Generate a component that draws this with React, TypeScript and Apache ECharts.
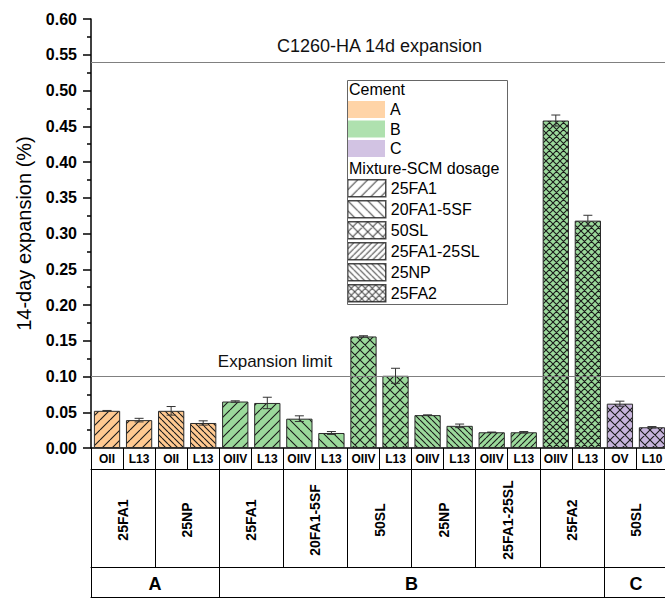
import React, { useEffect, useRef } from 'react';
import * as echarts from 'echarts';

// ---------- data ----------
const subLabels = ['OII', 'L13', 'OII', 'L13', 'OIIV', 'L13', 'OIIV', 'L13', 'OIIV', 'L13', 'OIIV', 'L13', 'OIIV', 'L13', 'OIIV', 'L13', 'OV', 'L10'];
const mixtures = ['25FA1', '25NP', '25FA1', '20FA1-5SF', '50SL', '25NP', '25FA1-25SL', '25FA2', '50SL'];
const mixtureCement = ['A', 'A', 'B', 'B', 'B', 'B', 'B', 'B', 'C'];
const cementNames = ['A', 'B', 'C'];
const cementBarCounts = [4, 12, 2];
const expansion = [0.052, 0.039, 0.052, 0.035, 0.065, 0.063, 0.041, 0.021, 0.156, 0.101, 0.046, 0.031, 0.022, 0.022, 0.458, 0.318, 0.062, 0.029];
const expansionError = [0.0005, 0.0025, 0.006, 0.003, 0.001, 0.008, 0.004, 0.002, 0.001, 0.0105, 0.0003, 0.0025, 0.0003, 0.001, 0.0077, 0.0075, 0.0035, 0.001];
const referenceValues = [0.54, 0.1];
const referenceLabels = ['C1260-HA 14d expansion', 'Expansion limit'];
const legendMixtures = ['25FA1', '20FA1-5SF', '50SL', '25FA1-25SL', '25NP', '25FA2'];
const legendTitles = ['Cement', 'Mixture-SCM dosage'];
const yMin = 0;
const yMax = 0.6;
const yInterval = 0.05;

// ---------- styles ----------
const FONT = 'Liberation Sans, Arial, Helvetica, sans-serif';
const cementColors: Record<string, string> = { A: '#FFC991', B: '#9BD99B', C: '#C7B4DC' };
const hatchStyles: Record<string, [string, number]> = {
  '25FA1': ['/', 10],
  '20FA1-5SF': ['\\', 10],
  '50SL': ['x', 10],
  '25FA1-25SL': ['/', 6],
  '25NP': ['\\', 6],
  '25FA2': ['x', 7],
};

function makeHatch(bg: string, kind: string, s: number) {
  const c = document.createElement('canvas');
  c.width = s;
  c.height = s;
  const ctx = c.getContext('2d')!;
  ctx.fillStyle = bg;
  ctx.fillRect(0, 0, s, s);
  ctx.strokeStyle = '#1a1a1a';
  ctx.lineWidth = 1.1;
  ctx.beginPath();
  for (let k = -1; k <= 1; k++) {
    if (kind === '/' || kind === 'x') {
      ctx.moveTo(k * s, s);
      ctx.lineTo(k * s + s, 0);
    }
    if (kind === '\\' || kind === 'x') {
      ctx.moveTo(k * s, 0);
      ctx.lineTo(k * s + s, s);
    }
  }
  ctx.stroke();
  return { image: c.toDataURL(), repeat: 'repeat', imageWidth: s, imageHeight: s };
}

export default function App() {
  const ref = useRef<HTMLDivElement>(null);

  useEffect(() => {
    if (!ref.current) return;
    const chart = echarts.init(ref.current, undefined, { renderer: 'svg' });

    const barData = expansion.map((v, i) => {
      const g = Math.floor(i / 2);
      const mix = mixtures[g];
      const cem = mixtureCement[g];
      const [kind, s] = hatchStyles[mix];
      return {
        value: v,
        itemStyle: { color: makeHatch(cementColors[cem], kind, s) as any, borderColor: '#2a2a2a', borderWidth: 1 },
      };
    });

    // cement group boundaries and label positions
    const bounds: number[] = [0];
    cementBarCounts.forEach((n) => bounds.push(bounds[bounds.length - 1] + n));
    const total = bounds[bounds.length - 1];
    const boundaryData: string[] = [];
    const boundaryText: Record<number, string> = {};
    cementNames.forEach((name, i) => {
      boundaryText[bounds[i] + cementBarCounts[i] / 2] = name;
    });
    for (let i = 0; i <= total; i++) boundaryData.push('b' + i);

    const legendSeries = [...cementNames, ...legendMixtures].map((n) => ({
      type: 'scatter',
      name: n,
      data: [],
    }));

    const option: any = {
      animation: false,
      textStyle: { fontFamily: FONT },
      grid: { left: 91, right: -3, top: 19, bottom: 150, containLabel: false, outerBoundsMode: 'none' },
      legend: [
        {
          orient: 'vertical',
          left: 347,
          top: 101,
          padding: 0,
          itemWidth: 38,
          itemHeight: 17,
          itemGap: 2.5,
          icon: 'rect',
          selectedMode: false,
          textStyle: { fontSize: 16, color: '#000', fontFamily: FONT, lineHeight: 17 },
          data: cementNames.map((n) => ({ name: n, itemStyle: { color: cementColors[n], borderWidth: 0 } })),
        },
        {
          orient: 'vertical',
          left: 347,
          top: 179,
          padding: 0,
          itemWidth: 38,
          itemHeight: 17,
          itemGap: 2.5,
          icon: 'rect',
          selectedMode: false,
          textStyle: { fontSize: 16, color: '#000', fontFamily: FONT, lineHeight: 17 },
          data: legendMixtures.map((m) => ({
            name: m,
            itemStyle: {
              color: makeHatch('#ffffff', hatchStyles[m][0], hatchStyles[m][1]),
              borderColor: '#1a1a1a',
              borderWidth: 1.5,
            },
          })),
        },
      ],
      graphic: [
        {
          type: 'rect',
          left: 345,
          top: 78,
          shape: { width: 160, height: 224 },
          style: { fill: 'none', stroke: '#666', lineWidth: 1 },
          z: 100,
        },
        {
          type: 'text',
          x: 349,
          y: 89,
          style: { text: legendTitles[0], fontSize: 16, fontFamily: FONT, fill: '#000', verticalAlign: 'middle' },
          z: 100,
        },
        {
          type: 'text',
          x: 349,
          y: 168,
          style: { text: legendTitles[1], fontSize: 16, fontFamily: FONT, fill: '#000', verticalAlign: 'middle' },
          z: 100,
        },
      ],
      xAxis: [
        {
          type: 'category',
          data: subLabels,
          position: 'bottom',
          boundaryGap: true,
          axisLine: { show: true, onZero: false, lineStyle: { color: '#000', width: 1.5 } },
          axisTick: { show: true, inside: false, length: 21, interval: 0, lineStyle: { color: '#000', width: 1 } },
          axisLabel: { interval: 0, margin: 0, lineHeight: 21, fontSize: 12, fontWeight: 'bold', color: '#000', fontFamily: FONT },
          splitLine: { show: false },
        },
        {
          type: 'category',
          data: mixtures,
          position: 'bottom',
          offset: 21,
          boundaryGap: true,
          axisLine: { show: true, onZero: false, lineStyle: { color: '#000', width: 1 } },
          axisTick: { show: true, length: 98, interval: 0, lineStyle: { color: '#000', width: 1 } },
          axisLabel: {
            interval: 0,
            rotate: 90,
            align: 'center',
            verticalAlign: 'middle',
            margin: 51,
            fontSize: 14,
            fontWeight: 'bold',
            color: '#000',
            fontFamily: FONT,
          },
        },
        {
          type: 'category',
          data: boundaryData,
          position: 'bottom',
          offset: 119,
          boundaryGap: false,
          axisLine: { show: true, onZero: false, lineStyle: { color: '#000', width: 1 } },
          axisTick: {
            show: true,
            length: 30,
            interval: (idx: number) => bounds.indexOf(idx) >= 0,
            lineStyle: { color: '#000', width: 1 },
          },
          axisLabel: {
            interval: (idx: number) => boundaryText[idx] !== undefined,
            formatter: (_v: string, idx: number) => boundaryText[idx] || '',
            margin: 2,
            lineHeight: 30,
            fontSize: 18,
            fontWeight: 'bold',
            color: '#000',
            fontFamily: FONT,
          },
        },
        {
          type: 'category',
          data: subLabels,
          position: 'bottom',
          offset: 149,
          axisLine: { show: true, onZero: false, lineStyle: { color: '#000', width: 1 } },
          axisTick: { show: false },
          axisLabel: { show: false },
        },
      ],
      yAxis: {
        type: 'value',
        min: yMin,
        max: yMax,
        interval: yInterval,
        name: '14-day expansion (%)',
        nameLocation: 'middle',
        nameGap: 57,
        nameTextStyle: { fontSize: 20, color: '#000', fontFamily: FONT },
        axisLine: { show: true, lineStyle: { color: '#000', width: 1.5 } },
        axisTick: { show: true, inside: false, length: 8, lineStyle: { color: '#000', width: 1.5 } },
        minorTick: { show: true, splitNumber: 2, length: 4, lineStyle: { color: '#000', width: 1.5 } },
        splitLine: { show: false },
        axisLabel: {
          margin: 14,
          fontSize: 16,
          fontWeight: 'bold',
          color: '#000',
          fontFamily: FONT,
          formatter: (v: number) => v.toFixed(2),
        },
      },
      series: [
        {
          type: 'bar',
          xAxisIndex: 0,
          yAxisIndex: 0,
          data: barData,
          barCategoryGap: '18%',
          z: 2,
          markLine: {
            silent: true,
            symbol: ['none', 'none'],
            lineStyle: { color: '#808080', width: 1, type: 'solid' },
            data: [
              {
                yAxis: referenceValues[0],
                label: {
                  show: true,
                  position: 'insideMiddleTop',
                  distance: 7,
                  formatter: referenceLabels[0],
                  fontSize: 18,
                  color: '#111',
                  fontFamily: FONT,
                },
              },
              {
                yAxis: referenceValues[1],
                label: {
                  show: true,
                  position: 'insideMiddleTop',
                  distance: 7,
                  padding: [0, 209, 0, 0],
                  formatter: referenceLabels[1],
                  fontSize: 17,
                  color: '#111',
                  fontFamily: FONT,
                },
              },
            ],
          },
        },
        {
          type: 'custom',
          xAxisIndex: 0,
          yAxisIndex: 0,
          z: 5,
          data: expansion.map((v, i) => [i, v, expansionError[i]]),
          renderItem: (_params: any, api: any) => {
            const x = api.value(0);
            const y = api.value(1);
            const e = api.value(2);
            const hi = api.coord([x, y + e]);
            const lo = api.coord([x, y - e]);
            const w = 4.5;
            const st = { stroke: '#333', lineWidth: 1 };
            return {
              type: 'group',
              children: [
                { type: 'line', shape: { x1: hi[0], y1: hi[1], x2: lo[0], y2: lo[1] }, style: st },
                { type: 'line', shape: { x1: hi[0] - w, y1: hi[1], x2: hi[0] + w, y2: hi[1] }, style: st },
                { type: 'line', shape: { x1: lo[0] - w, y1: lo[1], x2: lo[0] + w, y2: lo[1] }, style: st },
              ],
            };
          },
        },
        ...legendSeries,
      ],
    };

    chart.setOption(option);
    return () => chart.dispose();
  }, []);

  return (
    <div
      ref={ref}
      style={{ position: 'fixed', left: 0, top: 0, width: 665, height: 598, background: '#fff' }}
    />
  );
}
